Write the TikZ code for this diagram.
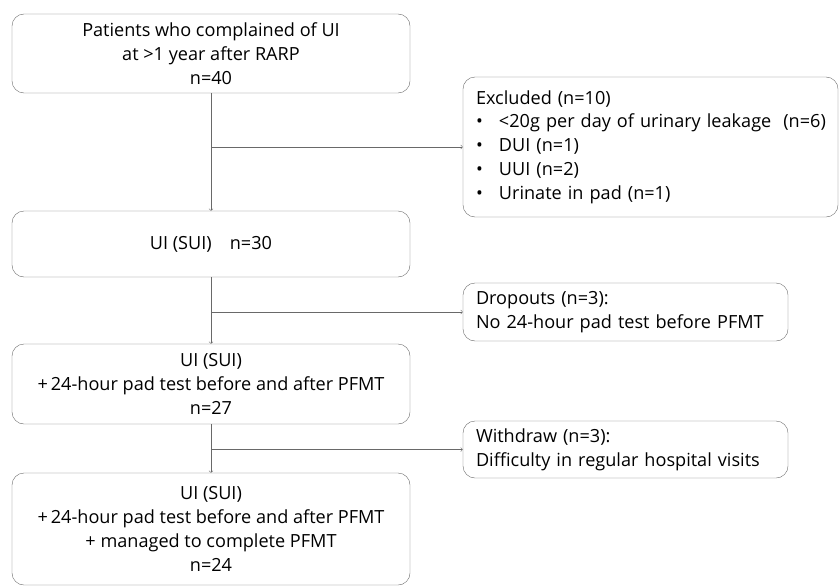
\documentclass[tikz,border=0pt]{standalone}
\usepackage{fontspec}
\setmainfont{Open Sans}
\usetikzlibrary{
  calc,
  positioning,
  arrows
}
\definecolor{linegray}{RGB}{105,105,105}

\begin{document}
\begin{tikzpicture}[x=1pt, y=-1pt, font=\fontsize{18.1}{23.8}\selectfont,
    box/.style = {draw=linegray, rounded corners=12pt, minimum width=398pt, align=center, inner sep=0pt},
    side/.style = {draw=linegray, rounded corners=12pt, align=left, inner xsep=13pt, inner ysep=0pt},
    link/.style = {draw=linegray, ->, line width=0.6pt}]
    \useasboundingbox (0,0) rectangle (840,586);

    \node[box, minimum height=79pt] (1) at (211,53.5)
      {Patients who complained of UI\\ at >1 year after RARP\\ n=40};
    \node[box, minimum height=66pt] (2) at (211,244) {UI (SUI)\quad n=30};
    \node[box, minimum height=80pt] (3) at (211,384)
      {UI (SUI)\\ +\,24-hour pad test before and after PFMT\\ n=27};
    \node[box, minimum height=112pt] (4) at (211,529)
      {UI (SUI)\\ +\,24-hour pad test before and after PFMT\\ + managed to complete PFMT\\ n=24};

    \node[side, text width=349pt, minimum height=140pt] (5) at (650.5,147)
      {Excluded (n=10)\\
       \mbox{\makebox[23pt][l]{•}<20g per day of urinary leakage\ \ (n=6)}\\
       \makebox[23pt][l]{•}DUI (n=1)\\
       \makebox[23pt][l]{•}UUI (n=2)\\
       \makebox[23pt][l]{•}Urinate in pad (n=1)};
    \node[side, text width=299pt, minimum height=58pt] (6) at (625.5,312)
      {Dropouts (n=3):\\ No 24-hour pad test before PFMT};
    \node[side, text width=299pt, minimum height=57pt] (7) at (625.5,449.5)
      {Withdraw (n=3):\\ Difficulty in regular hospital visits};

    \draw[link] (1) -- (2);
    \draw[link] (2) -- (3);
    \draw[link] (3) -- (4);
    \draw[link] (5.west -| 1.south) -- (5.west);
    \draw[link] (6.west -| 2.south) -- (6.west);
    \draw[link] (7.west -| 3.south) -- (7.west);
\end{tikzpicture}
\end{document}
